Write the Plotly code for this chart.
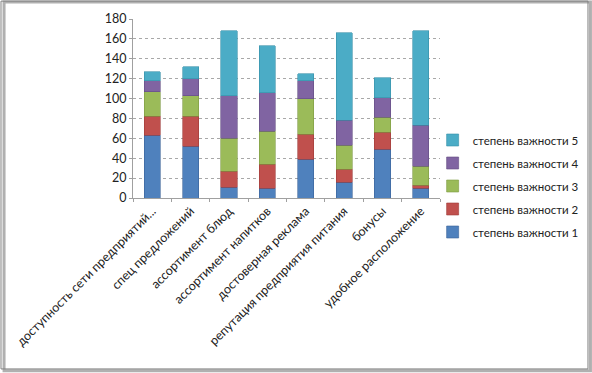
import plotly.graph_objects as go

categories = ["доступность сети предприятий...", "спец предложений", "ассортимент блюд",
              "ассортимент напитков", "достоверная реклама", "репутация предприятия питания",
              "бонусы", "удобное расположение"]
series_names = ["степень важности 1", "степень важности 2", "степень важности 3",
                "степень важности 4", "степень важности 5"]
s1 = [63, 52, 11, 10, 39, 16, 49, 10]
s2 = [19, 30, 16, 24, 25, 13, 17, 3]
s3 = [25, 21, 33, 33, 36, 24, 15, 19]
s4 = [11, 17, 43, 39, 18, 25, 20, 41]
s5 = [9, 12, 65, 47, 7, 88, 20, 95]
y_ticks = [0, 20, 40, 60, 80, 100, 120, 140, 160, 180]

colors = ["#4F81BD", "#C0504D", "#9BBB59", "#8064A2", "#4BACC6"]
border = ["#3A6398", "#9E3B38", "#7D9A42", "#634C82", "#3690A8"]

fig = go.Figure()
for i, vals in enumerate([s1, s2, s3, s4, s5]):
    fig.add_trace(go.Bar(x=categories, y=vals, name=series_names[i],
                         marker=dict(color=colors[i], line=dict(color=border[i], width=0.6)),
                         legendgroup=str(i), legendrank=10 - i))

fig.update_layout(
    barmode="stack",
    bargap=0.58,
    width=592, height=373,
    margin=dict(l=133, r=152, t=19, b=175, autoexpand=False),
    paper_bgcolor="white", plot_bgcolor="white",
    font=dict(family="Lato, Noto Sans, sans-serif", size=12.5, color="#222222"),
    showlegend=True,
    legend=dict(x=0.976, y=0.067, xanchor="left", yanchor="middle",
                traceorder="grouped", tracegroupgap=4, bgcolor="rgba(0,0,0,0)",
                font=dict(size=11.5), itemwidth=30),
    xaxis=dict(tickangle=-45, showline=True, linecolor="#A0A0A0", ticks="outside",
               ticklen=3, tickcolor="#A0A0A0", tickson="boundaries", automargin=False),
    yaxis=dict(range=[0, 180], tickvals=y_ticks, showgrid=True, gridcolor="#A8A8A8",
               griddash="dot", gridwidth=1, showline=True, linecolor="#A0A0A0",
               ticks="outside", ticklen=3, tickcolor="#A0A0A0", zeroline=False,
               automargin=False),
)

# outer frame with shadow
fig.add_shape(type="rect", xref="paper", yref="paper", x0=-0.42, x1=1.49, y0=-0.965, y1=1.095,
              line=dict(color="#B0B0B0", width=3), layer="below")
fig.add_shape(type="rect", xref="paper", yref="paper", x0=-0.43, x1=1.482, y0=-0.955, y1=1.10,
              line=dict(color="#808080", width=1), fillcolor="rgba(0,0,0,0)", layer="below")

fig.write_html("out.html", config={"displayModeBar": False},
               post_script="document.body.style.margin='0';")
